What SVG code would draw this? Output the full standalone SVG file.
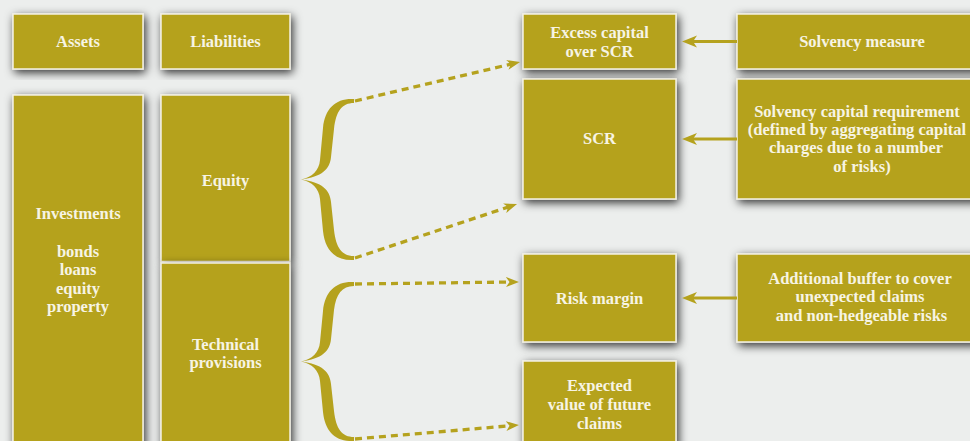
<svg xmlns="http://www.w3.org/2000/svg" width="970" height="441" viewBox="0 0 970 441">
<style>
.box{fill:#b5a21e;stroke:#f4f1e4;stroke-width:1.5;filter:url(#sh)}
.t{font-family:"Liberation Serif","Times New Roman",serif;font-weight:bold;font-size:16.5px;fill:#f7f4e4;text-anchor:middle}
.brace{fill:#b5a21e}
.dash{fill:none;stroke:#b5a21e;stroke-width:3.3;stroke-dasharray:7 5}
.solid{fill:none;stroke:#b5a21e;stroke-width:3}
</style>
<defs>
<filter id="sh" x="-20%" y="-20%" width="140%" height="140%">
<feDropShadow dx="2" dy="3" stdDeviation="5" flood-color="#000" flood-opacity="0.8"/>
</filter>
<marker id="ad" markerUnits="userSpaceOnUse" markerWidth="14" markerHeight="11" refX="6" refY="5" orient="auto">
<path d="M0,0 L13,5 L0,10 L3.5,5 Z" fill="#b5a21e"/>
</marker>
<marker id="as" markerUnits="userSpaceOnUse" markerWidth="16" markerHeight="13" refX="5" refY="6" orient="auto">
<path d="M0,0 L15,6 L0,12 L4,6 Z" fill="#b5a21e"/>
</marker>
</defs>
<rect width="970" height="441" fill="#eceeed"/>

<g id="assets"><rect class="box" x="13" y="14" width="130" height="55"/><text class="t" x="78" y="47">Assets</text></g>
<g id="liabilities"><rect class="box" x="161" y="14" width="129" height="55"/><text class="t" x="225.5" y="47">Liabilities</text></g>
<g id="investments"><rect class="box" x="13" y="95" width="130" height="360"/>
<text class="t" x="78" y="219">Investments</text>
<text class="t" x="78" y="257">bonds</text>
<text class="t" x="78" y="275">loans</text>
<text class="t" x="78" y="294">equity</text>
<text class="t" x="78" y="312">property</text></g>
<g id="equity"><rect class="box" x="161" y="95" width="129" height="166.5"/><text class="t" x="225.5" y="186">Equity</text></g>
<g id="technical"><rect class="box" x="161" y="263" width="129" height="190"/>
<text class="t" x="225.5" y="350">Technical</text>
<text class="t" x="225.5" y="368">provisions</text></g>

<g id="excess"><rect class="box" x="523" y="14" width="153" height="55"/>
<text class="t" x="599.5" y="37.5">Excess capital</text>
<text class="t" x="599.5" y="57">over SCR</text></g>
<g id="scr"><rect class="box" x="523" y="79" width="153" height="120"/><text class="t" x="599.5" y="144">SCR</text></g>
<g id="riskmargin"><rect class="box" x="523" y="254" width="153" height="88"/><text class="t" x="599.5" y="304">Risk margin</text></g>
<g id="expected"><rect class="box" x="523" y="361" width="153" height="100"/>
<text class="t" x="599.5" y="391">Expected</text>
<text class="t" x="599.5" y="410">value of future</text>
<text class="t" x="599.5" y="428.5">claims</text></g>

<g id="solvency"><rect class="box" x="737" y="14" width="260" height="55"/><text class="t" x="862" y="47">Solvency measure</text></g>
<g id="scrdesc"><rect class="box" x="737" y="79" width="260" height="120"/>
<text class="t" x="857" y="117">Solvency capital requirement</text>
<text class="t" x="857" y="135">(defined by aggregating capital</text>
<text class="t" x="856" y="153">charges due to a number</text>
<text class="t" x="862" y="172">of risks)</text></g>
<g id="buffer"><rect class="box" x="737" y="254" width="260" height="88"/>
<text class="t" x="860" y="284">Additional buffer to cover</text>
<text class="t" x="860" y="302">unexpected claims</text>
<text class="t" x="861.5" y="321">and non-hedgeable risks</text></g>

<g id="braces">
<path class="brace" d="M354,99 C336,98 325,108 323,128 L320,160 C319,171 312,177 301,179.5 C312,182 319,188 320,199 L323,231 C325,251 336,261 354,260 L354,256 C342,256 336,248 334,230 L331,202 C330,190 322,182 301,179.5 C322,177 330,169 331,157 L334,129 C336,111 342,103 354,103 Z"/>
<path class="brace" d="M354,282 C336,281 325,291 323,311 L320,342 C319,353 312,359 301,361.5 C312,364 319,370 320,381 L323,412 C325,432 336,442 354,441 L354,437 C342,437 336,429 334,411 L331,384 C330,372 322,364 301,361.5 C322,359 330,351 331,339 L334,310 C336,294 342,286 354,286 Z"/>
</g>

<g id="connectors">
<line class="dash" x1="355" y1="101" x2="513.2" y2="63.6" marker-end="url(#ad)"/>
<line class="dash" x1="355" y1="258" x2="510.4" y2="206.3" marker-end="url(#ad)"/>
<line class="dash" x1="355" y1="284" x2="512" y2="282" marker-end="url(#ad)"/>
<line class="dash" x1="355" y1="439" x2="512" y2="425.6" marker-end="url(#ad)"/>
<line class="solid" x1="737" y1="41.5" x2="692" y2="41.5" marker-end="url(#as)"/>
<line class="solid" x1="737" y1="139" x2="692" y2="139" marker-end="url(#as)"/>
<line class="solid" x1="737" y1="298" x2="692" y2="298" marker-end="url(#as)"/>
</g>
</svg>
